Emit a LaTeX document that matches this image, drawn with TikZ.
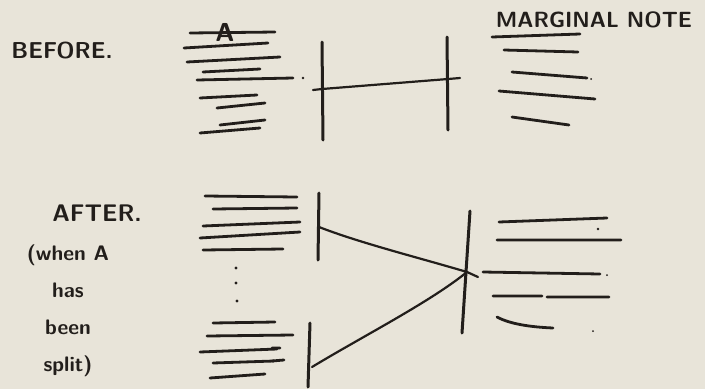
\documentclass[tikz,border=0pt]{standalone}
\usepackage{xcolor}
\usepackage{tikz}
\usetikzlibrary{calc,positioning}
\definecolor{sketchpaper}{HTML}{E8E4D9}
\definecolor{sketchink}{HTML}{221E1B}
\tikzset{%
  sketchline/.style={%
    draw=sketchink,
    line width=2.8pt,
    line cap=round
  },
  sketchbar/.style={%
    draw=sketchink,
    line width=3pt,
    line cap=round
  },
  sketchlink/.style={%
    draw=sketchink,
    line width=2.2pt,
    line cap=round
  },
  sketchlabel/.style={%
    text=sketchink,
    inner sep=0pt,
    font=\sffamily\bfseries\fontsize{24}{26}\selectfont
  },
  sketchnote/.style={%
    sketchlabel,
    align=center,
    font=\sffamily\bfseries\fontsize{21}{37}\selectfont
  }
}

\begin{document}
\begin{tikzpicture}[x=1pt,y=-1pt]
    \useasboundingbox[fill=sketchpaper] (0,0) rectangle (705,389);

    % labels
    \node[sketchlabel,font=\sffamily\bfseries\fontsize{23}{25}\selectfont] (before) at (62,51) {BEFORE.};
    \node[sketchlabel,font=\sffamily\bfseries\fontsize{26}{28}\selectfont] (markA) at (225,32) {A};
    \node[sketchlabel,font=\sffamily\bfseries\fontsize{22}{24}\selectfont] (margnote) at (594,20) {MARGINAL NOTE};
    \node[sketchlabel] (after) at (97,213) {AFTER.};
    \node[sketchnote] (whenA) at (68,311) {(when A\\has\\been\\split)};

    % before: column, bars, note
    \draw[sketchline] (190,33) -- (275,32) (184,48) -- (268,43)
      (187,62) -- (280,57) (203,72) -- (260,69) (197,80) -- (293,78)
      (200,98) -- (257,95) (217,108) -- (265,103) (220,125) -- (265,120)
      (200,133) -- (260,128);
    \fill[sketchink] (303,78) circle (1.3pt);

    \coordinate (barA-top) at (322,42);
    \coordinate (barA-bot) at (323,140);
    \coordinate (barB-top) at (447,37);
    \coordinate (barB-bot) at (448,130);
    \coordinate (joinA) at (322,89);
    \coordinate (joinB) at (448,79);
    \draw[sketchbar] (barA-top) -- (barA-bot);
    \draw[sketchbar] (barB-top) -- (barB-bot);
    \draw[sketchlink] (joinA) -- (joinB);
    \draw[sketchlink] (joinA) -- ++(-9,1);
    \draw[sketchlink] (joinB) -- ++(12,-1);

    \draw[sketchline] (492,37) -- (580,34) (504,50) -- (578,52)
      (512,72) -- (587,78) (499,91) -- (595,99) (512,117) -- (569,125);
    \fill[sketchink] (591,79) circle (1pt);

    % after: two columns, bars, note
    \draw[sketchline] (205,196) -- (297,197) (213,209) -- (297,208)
      (203,226) -- (300,222) (200,238) -- (300,232) (203,250) -- (283,249);
    \fill[sketchink] (236,268) circle (1.6pt) (236,283) circle (1.6pt)
      (237,301) circle (1.6pt);
    \draw[sketchline] (213,323) -- (275,322) (207,336) -- (293,335)
      (200,352) -- (277,349) (213,363) -- (274,361) (210,378) -- (265,374);
    \draw[sketchline] (272,348) -- (280,348) (272,361) -- (284,360);

    \coordinate (barC-top) at (319,193);
    \coordinate (barC-bot) at (318,260);
    \coordinate (barD-top) at (310,323);
    \coordinate (barD-bot) at (308,387);
    \coordinate (barE-top) at (470,211);
    \coordinate (barE-bot) at (462,333);
    \coordinate (joinC) at (319,227);
    \coordinate (joinD) at (312,367);
    \coordinate (joinE) at (467,272);
    \draw[sketchbar] (barC-top) -- (barC-bot);
    \draw[sketchbar] (barD-top) -- (barD-bot);
    \draw[sketchbar] (barE-top) -- (barE-bot);
    \draw[sketchlink] (joinC) .. controls (360,243) and (420,258) .. (joinE) -- ++(11,5);
    \draw[sketchlink] (joinD) .. controls (365,335) and (430,302) .. (joinE);

    \draw[sketchline] (499,222) -- (607,218) (497,240) -- (621,240)
      (483,272) -- (600,274) (493,296) -- (542,296) (547,297) -- (609,297);
    \draw[sketchline] (497,317) .. controls (510,324) and (530,327) .. (553,328);
    \fill[sketchink] (598,229) circle (1.4pt) (607,275) circle (1pt)
      (593,331) circle (1pt);
  \end{tikzpicture}
\end{document}
